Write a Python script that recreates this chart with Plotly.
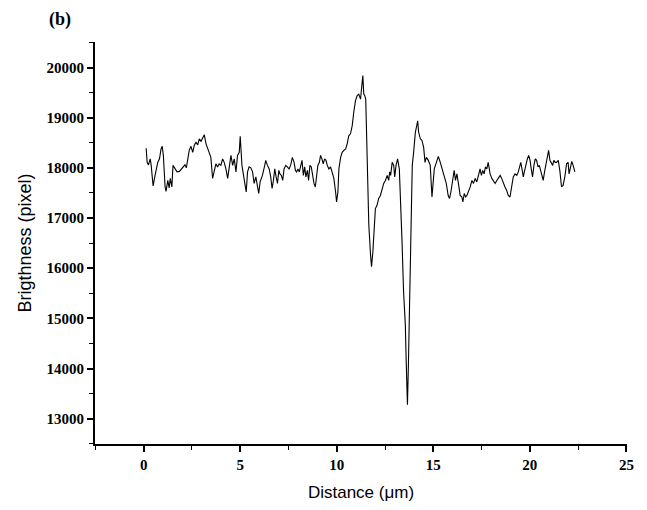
import plotly.graph_objects as go

distance_um = [
    0.13, 0.18, 0.25, 0.34, 0.39, 0.49, 0.59, 0.73, 0.82, 0.90, 0.96, 1.02, 1.11, 1.16, 1.25,
    1.32, 1.38, 1.46, 1.52, 1.63, 1.73, 1.85, 1.97, 2.08, 2.14, 2.21, 2.28, 2.36, 2.45, 2.54,
    2.62, 2.71, 2.80, 2.88, 2.97, 3.06, 3.14, 3.23, 3.31, 3.40, 3.48, 3.57, 3.66, 3.74, 3.83,
    3.91, 4.00, 4.09, 4.17, 4.26, 4.35, 4.43, 4.52, 4.61, 4.69, 4.78, 4.86, 4.95, 5.00, 5.09,
    5.17, 5.24, 5.31, 5.38, 5.46, 5.55, 5.64, 5.72, 5.81, 5.90, 5.96, 6.03, 6.15, 6.27, 6.32,
    6.41, 6.50, 6.58, 6.65, 6.72, 6.79, 6.86, 6.93, 7.00, 7.06, 7.13, 7.20, 7.27, 7.36, 7.44,
    7.53, 7.61, 7.70, 7.79, 7.86, 7.92, 7.99, 8.06, 8.13, 8.20, 8.27, 8.34, 8.40, 8.48, 8.54,
    8.61, 8.68, 8.75, 8.82, 8.89, 8.96, 9.02, 9.10, 9.16, 9.23, 9.30, 9.37, 9.44, 9.51, 9.59,
    9.68, 9.77, 9.85, 9.94, 9.99, 10.06, 10.11, 10.20, 10.28, 10.37, 10.46, 10.54, 10.62, 10.71, 10.80,
    10.88, 10.97, 11.06, 11.14, 11.23, 11.28, 11.35, 11.40, 11.45, 11.50, 11.54, 11.59, 11.66, 11.75, 11.80,
    11.87, 11.95, 12.00, 12.09, 12.17, 12.26, 12.35, 12.43, 12.52, 12.61, 12.69, 12.74, 12.79, 12.87, 12.95,
    13.00, 13.07, 13.15, 13.24, 13.31, 13.38, 13.46, 13.55, 13.60, 13.66, 13.71, 13.76, 13.81, 13.86, 13.91,
    13.98, 14.07, 14.14, 14.19, 14.24, 14.33, 14.41, 14.50, 14.57, 14.64, 14.74, 14.84, 14.93, 14.98, 15.05,
    15.16, 15.26, 15.36, 15.46, 15.57, 15.67, 15.77, 15.84, 15.91, 16.01, 16.08, 16.15, 16.22, 16.30, 16.39,
    16.48, 16.53, 16.60, 16.67, 16.74, 16.82, 16.91, 17.00, 17.08, 17.17, 17.25, 17.34, 17.42, 17.49, 17.56,
    17.63, 17.70, 17.77, 17.84, 17.90, 17.94, 18.03, 18.11, 18.20, 18.29, 18.37, 18.46, 18.54, 18.63, 18.71,
    18.80, 18.88, 18.97, 19.06, 19.14, 19.23, 19.32, 19.40, 19.45, 19.53, 19.59, 19.66, 19.73, 19.80, 19.87,
    19.94, 20.01, 20.07, 20.14, 20.21, 20.28, 20.35, 20.42, 20.49, 20.56, 20.62, 20.69, 20.76, 20.83, 20.90,
    20.97, 21.04, 21.11, 21.18, 21.24, 21.31, 21.38, 21.47, 21.55, 21.64, 21.72, 21.81, 21.90, 21.98, 22.03,
    22.11, 22.17, 22.24, 22.33,
]

brightness = [
    18390, 18110, 18060, 18180, 18050, 17640, 17850, 18110, 18180, 18380, 18430, 18250, 17620, 17530, 17750,
    17600, 17790, 17620, 18050, 17980, 17920, 17930, 17980, 18020, 18060, 18000, 18180, 18350, 18430, 18310,
    18450, 18510, 18460, 18580, 18530, 18610, 18660, 18480, 18380, 18310, 18210, 17790, 17980, 18080, 18020,
    18080, 18050, 18180, 18110, 17980, 17790, 18050, 18250, 18050, 18180, 17920, 18250, 18310, 18630, 18050,
    17850, 17720, 17520, 17920, 18020, 18000, 17920, 17690, 17820, 17620, 17490, 17720, 17850, 18050, 18150,
    18050, 17980, 17820, 17590, 17750, 17980, 17820, 17690, 17950, 17880, 17850, 17750, 17980, 18050, 18020,
    17980, 18050, 18210, 18110, 17950, 17920, 17980, 17920, 18050, 18150, 17850, 18020, 17820, 17950, 17750,
    18050, 18020, 17850, 17690, 17620, 17920, 18050, 18110, 18250, 18180, 18080, 18180, 18150, 18050, 17980,
    18020, 17920, 17790, 17520, 17320, 17520, 17980, 18210, 18310, 18350, 18380, 18480, 18640, 18680, 18840,
    19110, 19340, 19440, 19470, 19370, 19570, 19840, 19470, 19440, 19370, 18710, 17720, 16860, 16260, 16030,
    16330, 16860, 17190, 17260, 17390, 17450, 17590, 17690, 17750, 17850, 17750, 17920, 17850, 18110, 18050,
    17820, 18050, 18180, 17980, 17390, 16530, 15530, 14870, 14080, 13280, 14080, 15200, 16330, 17260, 18050,
    18310, 18710, 18840, 18940, 18710, 18580, 18550, 18410, 18110, 18210, 18150, 18050, 17420, 17690, 17980,
    18110, 18230, 18110, 17980, 17850, 17690, 17450, 17390, 17520, 17790, 17950, 17750, 17880, 17690, 17450,
    17420, 17320, 17490, 17420, 17450, 17520, 17620, 17750, 17690, 17790, 17720, 17850, 17980, 17850, 17950,
    17880, 18020, 17980, 18110, 17980, 17880, 17790, 17750, 17690, 17750, 17790, 17850, 17790, 17690, 17620,
    17550, 17450, 17420, 17620, 17820, 17880, 17850, 17920, 18020, 18110, 17980, 17820, 17950, 18080, 18180,
    18250, 18150, 17980, 17820, 18050, 18180, 18150, 18020, 18050, 17920, 17820, 17750, 17920, 18050, 18180,
    18350, 18150, 18080, 18050, 18150, 18110, 18110, 18150, 17950, 17620, 17650, 17820, 18080, 18110, 17880,
    18050, 18130, 18050, 17920,
]

x_tick_vals = [0, 5, 10, 15, 20, 25]
y_tick_vals = [13000, 14000, 15000, 16000, 17000, 18000, 19000, 20000]

fig = go.Figure()
fig.add_trace(go.Scatter(
    x=distance_um, y=brightness, mode="lines",
    line=dict(color="black", width=1.1),
    showlegend=False, hoverinfo="skip",
))

tick_font = dict(family="Liberation Serif, Times New Roman, serif", size=15, color="black", weight="bold")

fig.update_layout(
    width=647, height=510,
    margin=dict(l=87, r=28, t=34, b=74),
    paper_bgcolor="white", plot_bgcolor="white",
    xaxis=dict(
        range=[-2.52, 25.03], tickvals=x_tick_vals, ticktext=[str(v) for v in x_tick_vals],
        automargin=False,
        showgrid=False, zeroline=False, showline=True, linecolor="black", linewidth=1.8,
        ticks="outside", ticklen=6, tickwidth=1.6, tickcolor="black", tickfont=tick_font,
        minor=dict(ticks="outside", ticklen=4, tickwidth=1.3, tickcolor="black", dtick=2.5, tick0=0),
        title=dict(text="Distance (μm)", font=dict(family="Liberation Sans, Arial, sans-serif", size=17, color="black"), standoff=14),
    ),
    yaxis=dict(
        range=[12495, 20510], tickvals=y_tick_vals, ticktext=[str(v) for v in y_tick_vals],
        automargin=False,
        showgrid=False, zeroline=False, showline=True, linecolor="black", linewidth=1.8,
        ticks="outside", ticklen=6, tickwidth=1.6, tickcolor="black", tickfont=tick_font,
        minor=dict(ticks="outside", ticklen=4, tickwidth=1.3, tickcolor="black", dtick=500, tick0=12500),
        title=dict(text="Brigthness (pixel)", font=dict(family="Liberation Sans, Arial, sans-serif", size=18, color="black"), standoff=10),
    ),
    annotations=[dict(
        text="<b>(b)</b>", xref="paper", yref="paper", x=-0.09, y=1.0, yshift=23,
        xanchor="left", yanchor="middle", showarrow=False,
        font=dict(family="Liberation Serif, Times New Roman, serif", size=18, color="black"),
    )],
)

fig.write_html("out.html")
